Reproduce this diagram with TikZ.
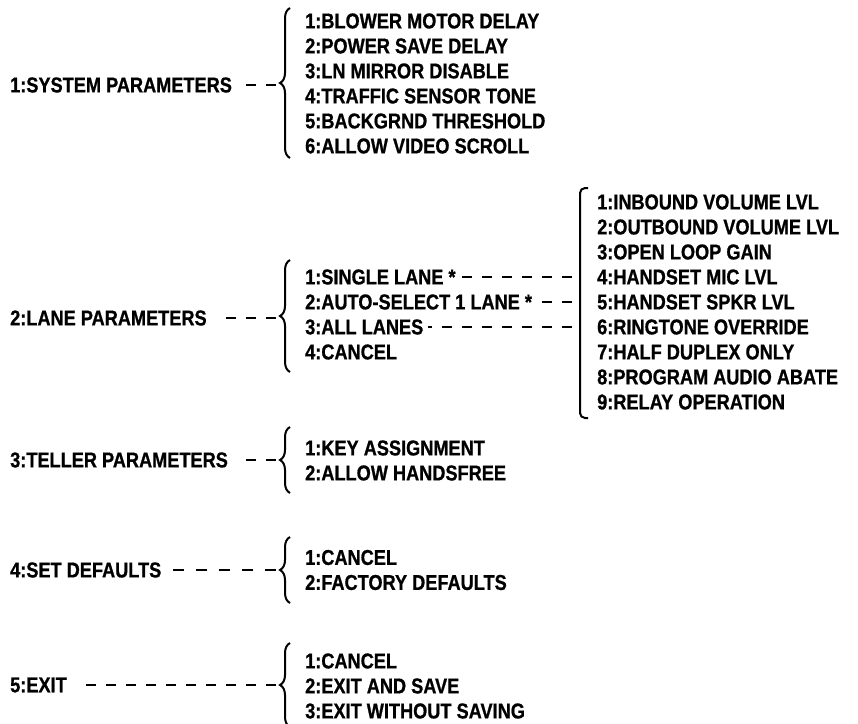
\documentclass[tikz,border=0pt]{standalone}
\usepackage{fontspec}
\setmainfont{Liberation Sans}[FakeStretch=0.845, FakeBold=0.8]
\usetikzlibrary{positioning,decorations.pathreplacing}
\tikzset{
  lbl/.style ={anchor=west, inner sep=0pt, font=\bfseries\fontsize{21.5}{25}\selectfont},
  lst/.style ={anchor=west, inner sep=0pt, align=left, font=\bfseries\fontsize{21.5}{25}\selectfont},
  dsh/.style ={line width=2.5pt, dash pattern=on 10pt off 10pt},
  brc/.style ={line width=2pt, decorate, decoration={brace, amplitude=10pt}},
}
\begin{document}
\begin{tikzpicture}[x=1pt, y=-1pt]
  \useasboundingbox[fill=white] (0,0) rectangle (858,723);
  % 1: system
  \node[lbl] (sys) at (10,85) {1:SYSTEM PARAMETERS};
  \node[lst] (syslst) at (305,83.5) {1:BLOWER MOTOR DELAY\\2:POWER SAVE DELAY\\3:LN MIRROR DISABLE\\4:TRAFFIC SENSOR TONE\\5:BACKGRND THRESHOLD\\6:ALLOW VIDEO SCROLL};
  \coordinate (sysb) at (290,158); \coordinate (syst) at (290,8);
  \coordinate (systip) at (276,85); \coordinate (sysend) at (240,85);
  \draw[brc] (sysb) -- (syst);
  \draw[dsh] (systip) -- (sysend);
  % 2: lane
  \node[lbl] (lane) at (10,318) {2:LANE PARAMETERS};
  \node[lbl] (single) at (305,277) {1:SINGLE LANE *};
  \node[lbl] (auto) at (305,302) {2:AUTO-SELECT 1 LANE *};
  \node[lbl] (all) at (305,327) {3:ALL LANES};
  \node[lbl] (cancel) at (305,352) {4:CANCEL};
  \coordinate (laneb) at (290,372); \coordinate (lanet) at (290,260);
  \coordinate (lanetip) at (276,318); \coordinate (laneend) at (222,318);
  \draw[brc] (laneb) -- (lanet);
  \draw[dsh] (lanetip) -- (laneend);
  \node[lst] (audlst) at (597,302) {1:INBOUND VOLUME LVL\\2:OUTBOUND VOLUME LVL\\3:OPEN LOOP GAIN\\4:HANDSET MIC LVL\\5:HANDSET SPKR LVL\\6:RINGTONE OVERRIDE\\7:HALF DUPLEX ONLY\\8:PROGRAM AUDIO ABATE\\9:RELAY OPERATION};
  \coordinate (audt) at (588,188); \coordinate (audb) at (588,418);
  \draw[line width=2pt, rounded corners=5pt] (audt) -- (580,188) -- (580,418) -- (audb);
  \coordinate (sgl) at (572,277); \coordinate (aut) at (572,302); \coordinate (alr) at (572,327);
  \draw[dsh] (sgl) -- (458,277);
  \draw[dsh] (aut) -- (538,302);
  \draw[dsh] (alr) -- (428,327);
  % 3: teller
  \node[lbl] (tel) at (10,460) {3:TELLER PARAMETERS};
  \node[lst] (tellst) at (305,460.5) {1:KEY ASSIGNMENT\\2:ALLOW HANDSFREE};
  \coordinate (telb) at (290,493); \coordinate (telt) at (290,427);
  \coordinate (teltip) at (276,460); \coordinate (telend) at (240,460);
  \draw[brc] (telb) -- (telt);
  \draw[dsh] (teltip) -- (telend);
  % 4: defaults
  \node[lbl] (dflt) at (10,570) {4:SET DEFAULTS};
  \node[lst] (dfltlst) at (305,570) {1:CANCEL\\2:FACTORY DEFAULTS};
  \coordinate (dfltb) at (290,603); \coordinate (dfltt) at (290,537);
  \coordinate (dflttip) at (276,570); \coordinate (dfltend) at (171,570);
  \draw[brc] (dfltb) -- (dfltt);
  \draw[dsh, dash pattern=on 11pt off 12pt] (dflttip) -- (dfltend);
  % 5: exit
  \node[lbl] (ext) at (10,685) {5:EXIT};
  \node[lst] (extlst) at (305,686) {1:CANCEL\\2:EXIT AND SAVE\\3:EXIT WITHOUT SAVING};
  \coordinate (extb) at (290,727); \coordinate (extt) at (290,643);
  \coordinate (exttip) at (276,685); \coordinate (extend) at (82,685);
  \draw[brc] (extb) -- (extt);
  \draw[dsh] (exttip) -- (extend);
\end{tikzpicture}
\end{document}
